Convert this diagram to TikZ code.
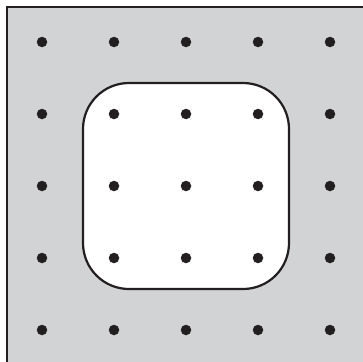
\documentclass[tikz,border=0pt]{standalone}
\definecolor{panelgray}{RGB}{209,211,212}
\definecolor{ink}{RGB}{35,31,32}
\tikzset{
  dotnode/.style={circle, fill=ink, inner sep=0pt, minimum size=10.5pt},
  holebox/.style={rectangle, draw=ink, fill=white, line width=2.2pt, rounded corners=46pt, minimum size=206pt, inner sep=0pt},
  panel/.style={fill=panelgray, draw=ink, line width=2.4pt}
}
\begin{document}
\begin{tikzpicture}[x=1pt,y=-1pt]
\useasboundingbox (0,0) rectangle (363,361);
\clip (0,0) rectangle (363,361);
\draw[panel] (7.2,7.2) rectangle (380,380);
\node[holebox] (hole) at (186,186) {};
\foreach \i in {0,...,4} {
  \foreach \j in {0,...,4} {
    \node[dotnode] (d-\i-\j) at ({42+72*\i},{42+72*\j}) {};
  }
}
\end{tikzpicture}
\end{document}
